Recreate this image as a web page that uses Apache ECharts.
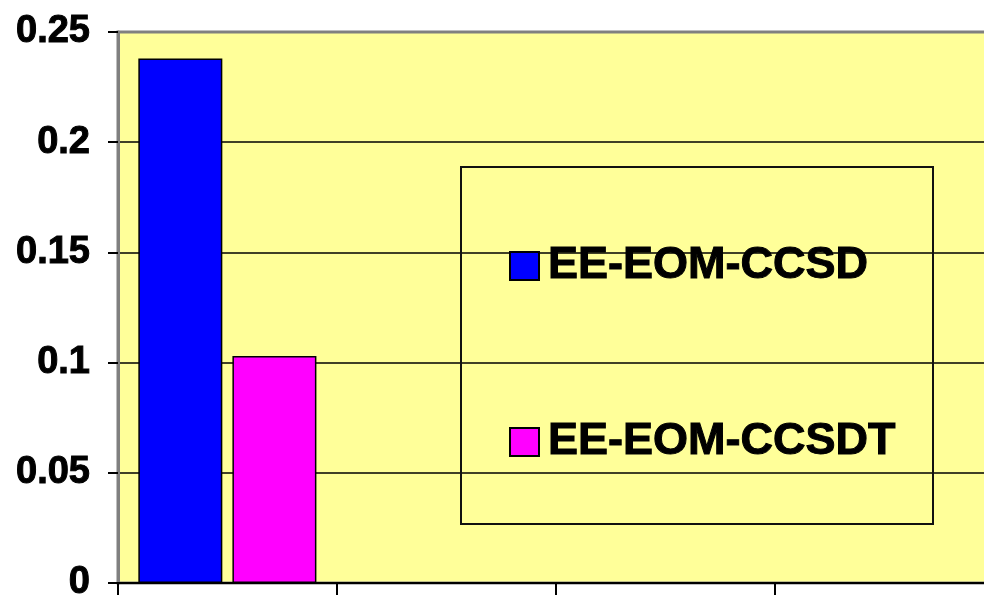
<!DOCTYPE html>
<html>
<head>
<meta charset="utf-8">
<script src="https://cdn.jsdelivr.net/npm/echarts@6/dist/echarts.min.js"></script>
<style>
html,body{margin:0;padding:0;background:#fff;}
#c{width:984px;height:595px;}
</style>
</head>
<body>
<div id="c"></div>
<script>
var categories = ['', '', '', ''];
var seriesNames = ['EE-EOM-CCSD', 'EE-EOM-CCSDT'];
var ccsdValues = [0.238, null, null, null];
var ccsdtValues = [0.103, null, null, null];
var yTicks = { min: 0, max: 0.25, interval: 0.05 };

var FONT = "'Liberation Sans', Arial, sans-serif";
var chart = echarts.init(document.getElementById('c'), null, { renderer: 'canvas' });
chart.setOption({
  animation: false,
  backgroundColor: '#ffffff',
  grid: {
    left: 118, right: -9, top: 32, bottom: 12,
    outerBoundsMode: 'none',
    containLabel: false,
    show: true,
    backgroundColor: '#FFFF99',
    borderColor: '#808080',
    borderWidth: 3
  },
  legend: {
    orient: 'vertical',
    left: 504,
    top: 238,
    itemWidth: 29,
    itemHeight: 28,
    itemGap: 130,
    icon: 'rect',
    selectedMode: false,
    textStyle: {
      fontFamily: FONT, fontSize: 45, fontWeight: 'bold', color: '#000',
      textBorderColor: '#000', textBorderWidth: 1,
      lineHeight: 46, padding: [0, 0, 0, 4]
    },
    data: seriesNames
  },
  graphic: [{
    type: 'rect',
    shape: { x: 461, y: 167, width: 472, height: 357 },
    style: { fill: 'none', stroke: '#111', lineWidth: 2 },
    z: 10
  }],
  xAxis: {
    type: 'category',
    data: categories,
    axisLine: { show: true, lineStyle: { color: '#000', width: 2 } },
    axisTick: { show: true, length: 14, lineStyle: { color: '#000', width: 2 } },
    axisLabel: { show: false },
    splitLine: { show: false }
  },
  yAxis: {
    type: 'value',
    min: yTicks.min, max: yTicks.max, interval: yTicks.interval,
    axisLine: { show: true, lineStyle: { color: '#808080', width: 3 } },
    axisTick: { show: true, length: 10, lineStyle: { color: '#000', width: 2 } },
    axisLabel: {
      fontFamily: FONT, fontSize: 38, fontWeight: 'bold', color: '#000', margin: 28,
      textBorderColor: '#000', textBorderWidth: 1
    },
    splitLine: { show: true, showMaxLine: false, showMinLine: false, lineStyle: { color: '#000', width: 1.5 } }
  },
  series: [
    {
      name: seriesNames[0], type: 'bar', data: ccsdValues,
      barWidth: 84, barGap: '12%',
      itemStyle: { color: '#0000FF', borderColor: '#000', borderWidth: 1.5 }
    },
    {
      name: seriesNames[1], type: 'bar', data: ccsdtValues,
      barWidth: 84, barGap: '12%',
      itemStyle: { color: '#FF00FF', borderColor: '#000', borderWidth: 1.5 }
    }
  ]
});
</script>
</body>
</html>
